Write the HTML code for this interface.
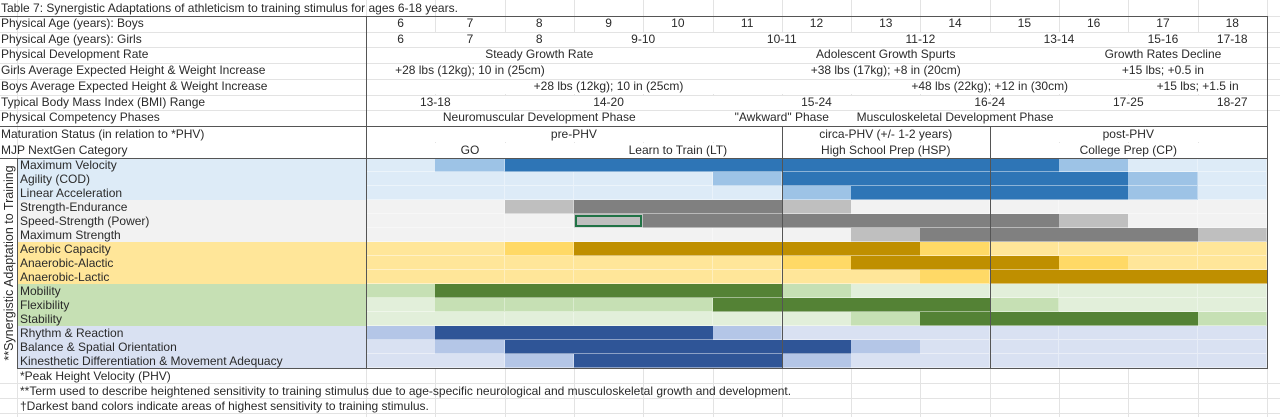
<!DOCTYPE html>
<html><head><meta charset="utf-8">
<style>
html,body{margin:0;padding:0;background:#fff;}
#root{position:relative;width:1280px;height:417px;overflow:hidden;font-family:"Liberation Sans",sans-serif;font-size:12px;color:#2a2a2a;}
.c{position:absolute;white-space:nowrap;line-height:1;}
.abs{position:absolute;}
</style></head>
<body>
<div id="root"></div>
<script>
const ages = ["6","7","8","9","10","11","12","13","14","15","16","17","18"];
const girlsAges = [["6",0,1],["7",1,2],["8",2,3],["9-10",3,5],["10-11",5,7],["11-12",7,9],["13-14",9,11],["15-16",11,12],["17-18",12,13]];
const devRate = [["Steady Growth Rate",0,5],["Adolescent Growth Spurts",5,10],["Growth Rates Decline",10,13]];
const girlsInc = [["+28 lbs (12kg); 10 in (25cm)",0,3],["+38 lbs (17kg); +8 in (20cm)",5,10],["+15 lbs; +0.5 in",10,13]];
const boysInc = [["+28 lbs (12kg); 10 in (25cm)",2,5],["+48 lbs (22kg); +12 in (30cm)",6,12],["+15 lbs; +1.5 in",11,13]];
const bmi = [["13-18",0,2],["14-20",2,5],["15-24",5,8],["16-24",8,10],["17-25",10,12],["18-27",12,13]];
const competency = [["Neuromuscular Development Phase",0,5],["\"Awkward\" Phase",5,7],["Musculoskeletal Development Phase",7,10]];
const maturation = [["pre-PHV",0,6],["circa-PHV (+/- 1-2 years)",6,9],["post-PHV",9,13]];
const mjp = [["GO",0,3],["Learn to Train (LT)",3,6],["High School Prep (HSP)",6,9],["College Prep (CP)",9,13]];
const qualities = ["Maximum Velocity","Agility (COD)","Linear Acceleration","Strength-Endurance","Speed-Strength (Power)","Maximum Strength","Aerobic Capacity","Anaerobic-Alactic","Anaerobic-Lactic","Mobility","Flexibility","Stability","Rhythm & Reaction","Balance & Spatial Orientation","Kinesthetic Differentiation & Movement Adequacy"];
const qualityGroup = [0,0,0,1,1,1,2,2,2,3,3,3,4,4,4];
const sensitivity = [
 [0,1,2,2,2,2,2,2,2,2,1,0,0],
 [0,0,0,0,0,1,2,2,2,2,2,1,0],
 [0,0,0,0,0,0,1,2,2,2,2,1,0],
 [0,0,1,2,2,2,1,0,0,0,0,0,0],
 [0,0,0,1,2,2,2,2,2,2,1,0,0],
 [0,0,0,0,0,0,0,1,2,2,2,2,1],
 [0,0,1,2,2,2,2,2,1,0,0,0,0],
 [0,0,0,0,0,0,1,2,2,2,1,0,0],
 [0,0,0,0,0,0,0,0,1,2,2,2,2],
 [1,2,2,2,2,2,1,0,0,0,0,0,0],
 [0,1,1,1,1,2,2,2,2,1,0,0,0],
 [0,0,0,0,0,0,0,1,2,2,2,2,1],
 [1,2,2,2,2,1,0,0,0,0,0,0,0],
 [0,1,2,2,2,2,2,1,0,0,0,0,0],
 [0,0,1,2,2,2,1,0,0,0,0,0,0]
];
const palette = [
 ["#ddebf7","#9dc3e6","#2e75b6"],
 ["#f2f2f2","#bfbfbf","#808080"],
 ["#ffe699","#ffd966","#bf8f00"],
 ["#e2efda","#c6e0b4","#548235"],
 ["#d9e1f2","#b4c6e7","#2f5597"]
];
const labelBg = ["#ddebf7","#f2f2f2","#ffe699","#c6e0b4","#d9e1f2"];
const footnotes = ["*Peak Height Velocity (PHV)","**Term used to describe heightened sensitivity to training stimulus due to age-specific neurological and musculoskeletal growth and development.","\u2020Darkest band colors indicate areas of highest sensitivity to training stimulus."];

const root = document.getElementById('root');
const X0 = 366, CW = 69.3, XR = X0 + CW*13;
function colX(i){ return X0 + CW*i; }
const headTops = [16,31.7,47.4,63.1,78.8,94.5,110.2,126,142];
const DT = 158, RH = 14;
function rowY(i){ return DT + RH*i; }

function box(x,y,w,h,bg,name){
  const d=document.createElement('div');d.className='abs';
  d.style.cssText=`left:${x}px;top:${y}px;width:${w}px;height:${h}px;background:${bg};`;
  
  
  root.appendChild(d);return d;
}
function text(t,x,y,h,name,center,w){
  const d=document.createElement('div');d.className='c';
  d.textContent=t;
  if(center){d.style.cssText=`left:${x}px;top:${y}px;width:${w}px;height:${h}px;line-height:${h}px;text-align:center;`;}
  else{d.style.cssText=`left:${x}px;top:${y}px;height:${h}px;line-height:${h}px;`;}
  
  
  root.appendChild(d);return d;
}
// light grid
for(let i=0;i<=13;i++){ box(colX(i),0,1,417,'#e3e3e3','grid-v'); }
box(17,0,1,417,'#e3e3e3','grid-v');
[16,31.7,47.4,63.1,78.8,94.5,110.2,383,398,413].forEach(y=>box(0,y,1280,1,'#e3e3e3','grid-h'));

text("Table 7:  Synergistic Adaptations of athleticism to training stimulus for ages 6-18 years.",1,0,16,'table-title');
const headLabels=["Physical Age (years): Boys","Physical Age (years): Girls","Physical Development Rate","Girls Average Expected Height & Weight Increase","Boys Average Expected Height & Weight Increase","Typical Body Mass Index (BMI) Range","Physical Competency Phases","Maturation Status (in relation to *PHV)","MJP NextGen Category"];
const headGroups=[null,girlsAges,devRate,girlsInc,boysInc,bmi,competency,maturation,mjp];
headLabels.forEach((l,r)=>{
  const y=headTops[r], h=(r<8?headTops[r+1]:DT)-y;
  text(l,1,y,h,'header-label');
  if(r===0){
    ages.forEach((a,i)=>{box(colX(i)+1,y+1,CW-1,h-1,'#fff','cell');text(a,colX(i),y,h,'boys-age-'+a,true,CW);});
  } else {
    box(X0+1,y+1,XR-X0-1,h-1,'#fff','header-bg');
    headGroups[r].forEach(g=>{
      const x=colX(g[1]), w=colX(g[2])-x;
      text(g[0],x,y,h,'header-cell',true,w);
    });
  }
});
// data rows
qualities.forEach((q,r)=>{
  const y=rowY(r), g=qualityGroup[r];
  box(18,y,X0-18,RH,labelBg[g],'quality-label-bg');
  text(q,20,y,RH,'quality-label');
  sensitivity[r].forEach((v,i)=>{
    const c=box(colX(i),y,CW+0.5,RH,palette[g][v],'band-cell');
    c.style.borderBottom='1px solid rgba(255,255,255,0.45)';c.style.boxSizing='border-box';
    if(v<2)c.style.borderRight='1px solid rgba(255,255,255,0.35)';
  });
});
// selected cell
const sel=box(colX(3)+1,rowY(4)+1,CW-2,RH-2,'transparent','selected-cell');
sel.style.border='2px solid #217346';sel.style.boxSizing='border-box';
// footnotes
footnotes.forEach((f,i)=>text(f,20,369+15*i,15,'footnote'));
// rotated label
const rl=document.createElement('div');rl.className='c';
rl.textContent="**Synergistic Adaptation to Training";
rl.style.cssText="left:9px;top:263px;transform:translate(-50%,-50%) rotate(-90deg);font-size:12.5px;";


root.appendChild(rl);
box(0,158,17,210,'#fff','axis-bg').style.zIndex=-1;
// dark borders
const dk='#555';
box(0,15.5,XR+1,1,dk,'border');
box(0,126,XR+1,1,dk,'border');
box(0,158,XR+1,1,dk,'border');
box(17,368,XR-16,1,dk,'border');
box(X0,16,1,352,dk,'border');
box(XR,16,1,352,dk,'border');
box(17,158,1,210,dk,'border');
box(colX(6),126,1,242,dk,'border');
box(colX(9),126,1,242,dk,'border');
</script>
</body></html>
